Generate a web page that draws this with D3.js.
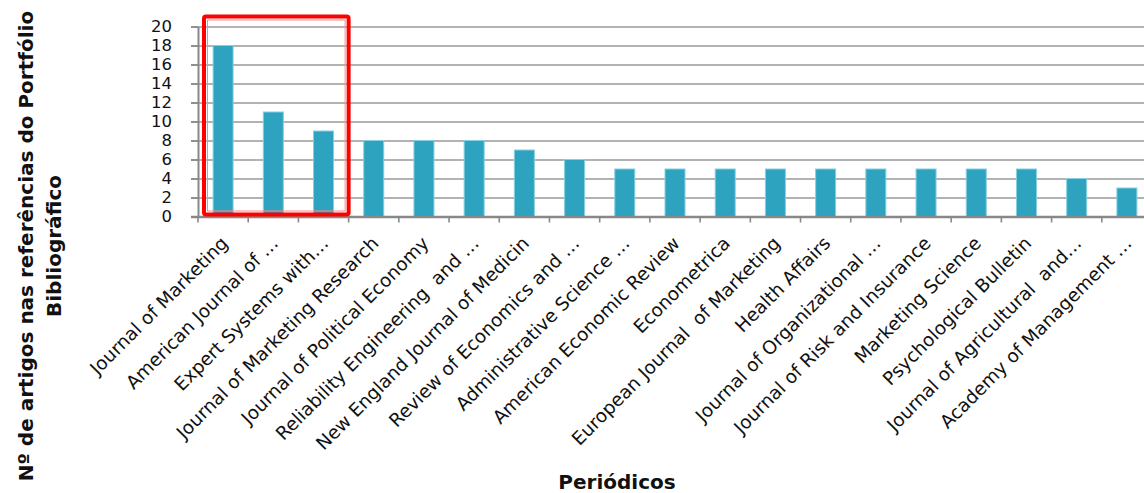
<!DOCTYPE html>
<html>
<head>
<meta charset="utf-8">
<script src="https://cdn.jsdelivr.net/npm/d3@7"></script>
<style>
    html, body { margin: 0; padding: 0; background: #fff; }
    svg { display: block; font-family: "DejaVu Sans", sans-serif; }
</style>
</head>
<body>
<div id="chart"></div>
<script>
// Periódicos e número de artigos nas referências
const categories = [
    "Journal of Marketing",
    "American Journal of …",
    "Expert Systems with…",
    "Journal of Marketing Research",
    "Journal of Political Economy",
    "Reliability Engineering  and …",
    "New England Journal of Medicin",
    "Review of Economics and …",
    "Administrative Science …",
    "American Economic Review",
    "Econometrica",
    "European Journal  of Marketing",
    "Health Affairs",
    "Journal of Organizational …",
    "Journal of Risk and Insurance",
    "Marketing Science",
    "Psychological Bulletin",
    "Journal of Agricultural  and…",
    "Academy of Management …"
];
const values = [18, 11, 9, 8, 8, 8, 7, 6, 5, 5, 5, 5, 5, 5, 5, 5, 5, 4, 3];
const yTicks = [0, 2, 4, 6, 8, 10, 12, 14, 16, 18, 20];
const highlighted = categories.slice(0, 3);

const yTitleLines = ["Nº de artigos nas referências do Portfólio", "Bibliográfico"];
const xTitle = "Periódicos";

function drawChart() {
    const width = 1144, height = 493;
    const x0 = 198, x1 = 1152;
    const yBottom = 216.5, yTop = 26.5;

    const svg = d3.select("#chart").append("svg")
        .attr("width", width)
        .attr("height", height);

    const x = d3.scaleBand()
        .domain(categories)
        .range([x0, x1])
        .paddingInner(0)
        .paddingOuter(0);

    const y = d3.scaleLinear()
        .domain([0, 20])
        .range([yBottom, yTop]);

    // grid
    svg.append("g")
        .attr("class", "grid")
        .attr("transform", `translate(${x0},0)`)
        .call(d3.axisLeft(y)
            .tickValues(yTicks.slice(1))
            .tickSize(-(x1 - x0))
            .tickSizeOuter(0)
            .tickFormat("")
        )
        .call(g => g.select(".domain").remove())
        .selectAll("line")
        .attr("x1", -7)
        .attr("stroke", "#999")
        .attr("stroke-width", 1.6);

    // y axis
    const yAxis = svg.append("g")
        .attr("transform", `translate(${x0},0)`)
        .call(d3.axisLeft(y).tickValues(yTicks).tickSize(7).tickSizeOuter(0).tickPadding(19));
    yAxis.select(".domain").attr("stroke", "#888").attr("stroke-width", 2);
    yAxis.selectAll(".tick line").attr("stroke", "#888").attr("stroke-width", 1.6);
    yAxis.selectAll("text")
        .attr("fill", "#111")
        .style("font-size", "16.5px")
        .style("font-family", "'DejaVu Sans', sans-serif");

    // bars
    const barW = 20;
    svg.selectAll(".bar")
        .data(values)
        .enter()
        .append("rect")
        .attr("class", "bar")
        .attr("x", (d, i) => x(categories[i]) + x.bandwidth() / 2 - barW / 2)
        .attr("y", d => y(d))
        .attr("width", barW)
        .attr("height", d => y(0) - y(d))
        .attr("fill", "#2ea3c0")
        .attr("stroke", "#86cfe0")
        .attr("stroke-width", 1);

    // x axis
    const xAxis = svg.append("g")
        .attr("transform", `translate(0,${yBottom + 0.5})`)
        .call(d3.axisBottom(x).tickSize(0).tickFormat(""));
    xAxis.select(".domain")
        .attr("d", `M${x0 - 7},0H${x1}`)
        .attr("stroke", "#888")
        .attr("stroke-width", 2.5);
    xAxis.selectAll(".tick").remove();

    svg.append("g")
        .selectAll("line")
        .data(categories)
        .enter()
        .append("line")
        .attr("x1", d => x(d))
        .attr("x2", d => x(d))
        .attr("y1", yBottom)
        .attr("y2", yBottom + 6)
        .attr("stroke", "#888")
        .attr("stroke-width", 1.6);

    // category labels
    svg.append("g")
        .selectAll("text")
        .data(categories)
        .enter()
        .append("text")
        .attr("transform", d => `translate(${x(d) + x.bandwidth() / 2 + 6},${yBottom + 28}) rotate(-45)`)
        .attr("text-anchor", "end")
        .attr("fill", "#111")
        .style("font-size", "18.5px")
        .style("white-space", "pre")
        .text(d => d);

    // highlight box round the first three periodicals
    const hx0 = x(highlighted[0]) + 4;
    const hx1 = x(highlighted[highlighted.length - 1]) + x.bandwidth() + 2;
    const hy0 = y(20) - 12;
    const hy1 = y(0);
    svg.append("rect")
        .attr("x", hx0 + 2)
        .attr("y", hy0 + 2)
        .attr("width", hx1 - hx0 - 4)
        .attr("height", hy1 - hy0 - 4)
        .attr("fill", "none")
        .attr("stroke", "#ff0000")
        .attr("stroke-width", 4)
        .attr("rx", 2);
    svg.append("rect")
        .attr("x", hx0 + 5.5)
        .attr("y", hy0 + 5.5)
        .attr("width", hx1 - hx0 - 11)
        .attr("height", hy1 - hy0 - 11)
        .attr("fill", "none")
        .attr("stroke", "#ff8a8a")
        .attr("stroke-width", 1);

    // axis titles
    const yt = svg.append("text")
        .attr("transform", "rotate(-90)")
        .attr("text-anchor", "middle")
        .attr("fill", "#111")
        .style("font-size", "20px")
        .style("font-weight", "bold");
    yTitleLines.forEach((line, i) => {
        yt.append("tspan")
            .attr("x", -246)
            .attr("y", 33 + i * 28)
            .text(line);
    });

    svg.append("text")
        .attr("x", 617)
        .attr("y", 489)
        .attr("text-anchor", "middle")
        .attr("fill", "#111")
        .style("font-size", "20px")
        .style("font-weight", "bold")
        .text(xTitle);
}

drawChart();
</script>
</body>
</html>
